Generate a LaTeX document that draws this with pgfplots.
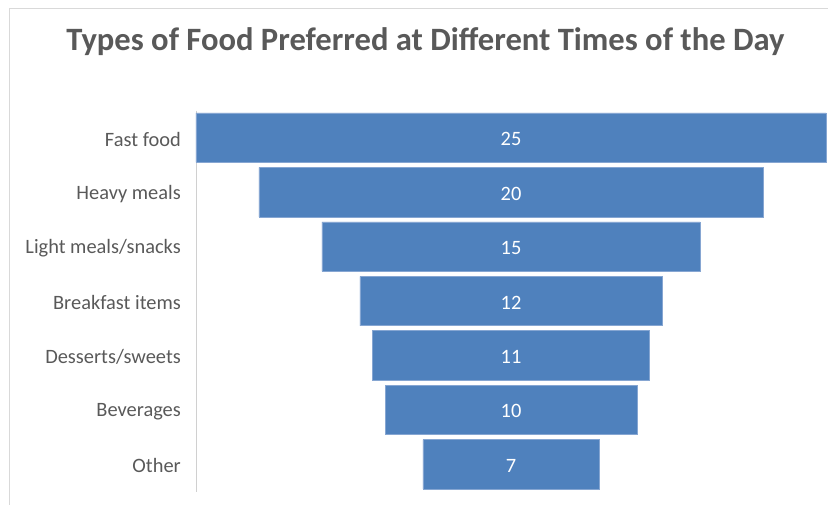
\documentclass[border=0pt]{standalone}
\usepackage{pgfplots}
\pgfplotsset{compat=1.18}
\usepackage{fontspec}
\setmainfont{Carlito}
\definecolor{barblue}{HTML}{4F81BD}
\definecolor{baredge}{HTML}{86A6D2}
\definecolor{txtgrey}{HTML}{595959}
\definecolor{axgrey}{HTML}{D0D0D0}
\definecolor{framegrey}{HTML}{D9D9D9}
\begin{document}
\begin{tikzpicture}
\useasboundingbox (0pt,0pt) rectangle (828pt,505pt);
\draw[framegrey, line width=0.8pt] (9pt,0pt) -- (9pt,497pt) -- (828pt,497pt);
\node[text=txtgrey, font=\fontsize{32.6}{38}\selectfont\bfseries, anchor=base] at (425.5pt,454pt) {Types of Food Preferred at Different Times of the Day};
\begin{axis}[
  at={(196pt,13.5pt)}, anchor=south west,
  scale only axis, width=630pt, height=381pt,
  xmin=0, xmax=25, ymin=-0.5, ymax=6.5, y dir=reverse,
  xbar stacked, bar width=49.5pt,
  hide x axis,
  axis y line*=left,
  y axis line style={draw=axgrey, line width=0.8pt},
  ytick={0,1,2,3,4,5,6},
  yticklabels={Fast food,Heavy meals,Light meals/snacks,Breakfast items,Desserts/sweets,Beverages,Other},
  major tick length=0pt,
  yticklabel style={anchor=east, inner sep=0pt, xshift=-15pt, yshift=-1.5pt, text=txtgrey, font=\fontsize{20.4}{24}\selectfont},
  clip=false,
]
\addplot[draw=none, fill=none] coordinates {(0,0) (2.5,1) (5,2) (6.5,3) (7,4) (7.5,5) (9,6)};
\addplot[fill=barblue, draw=baredge, line width=0.6pt] coordinates {(25,0) (20,1) (15,2) (12,3) (11,4) (10,5) (7,6)};
\end{axis}
\begin{axis}[
  at={(196pt,13.5pt)}, anchor=south west,
  scale only axis, width=630pt, height=381pt,
  xmin=0, xmax=25, ymin=-0.5, ymax=6.5, y dir=reverse,
  hide axis, clip=false,
]
\addplot[draw=none, mark=none, nodes near coords, point meta=explicit symbolic,
  nodes near coords style={anchor=center, yshift=-1.5pt, text=white, font=\fontsize{20.4}{24}\selectfont}]
  coordinates {(12.5,0) [25] (12.5,1) [20] (12.5,2) [15] (12.5,3) [12] (12.5,4) [11] (12.5,5) [10] (12.5,6) [7]};
\end{axis}
\end{tikzpicture}
\end{document}
